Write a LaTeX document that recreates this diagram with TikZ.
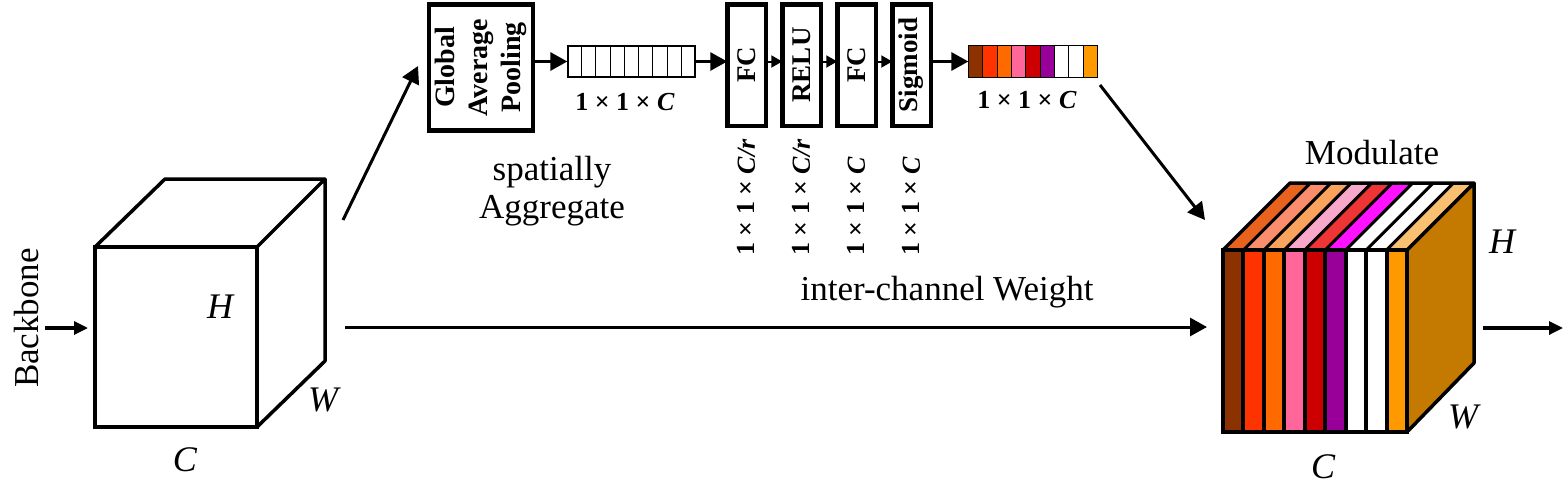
\documentclass[tikz,border=0pt]{standalone}
\usepackage{fontspec}
\setmainfont{Liberation Serif}
\usetikzlibrary{arrows.meta,calc}
\definecolor{s1}{HTML}{8B3200}
\definecolor{s2}{HTML}{FF3300}
\definecolor{s3}{HTML}{FF6A00}
\definecolor{s4}{HTML}{FF6699}
\definecolor{s5}{HTML}{CC0000}
\definecolor{s6}{HTML}{990099}
\definecolor{s7}{HTML}{FFFFFF}
\definecolor{s8}{HTML}{FFFFFF}
\definecolor{s9}{HTML}{FF9900}
\definecolor{t1}{HTML}{E8641E}
\definecolor{t2}{HTML}{F98D6C}
\definecolor{t3}{HTML}{F9A35E}
\definecolor{t4}{HTML}{F8A8C8}
\definecolor{t5}{HTML}{EE3535}
\definecolor{t6}{HTML}{FF10FF}
\definecolor{t7}{HTML}{FFFFFF}
\definecolor{t8}{HTML}{FFFFFF}
\definecolor{t9}{HTML}{F8C070}
\definecolor{sidec}{HTML}{C47A00}
\begin{document}
\begin{tikzpicture}[x=1pt,y=-1pt,
  conn/.style={line width=3pt,-{Triangle[length=17pt,width=18pt]}},
  inarrow/.style={line width=3.2pt,-{Triangle[length=14pt,width=13pt]}},
  tinyarrow/.style={line width=2pt,-{Triangle[length=11pt,width=12pt]}},
  blk/.style={draw,line width=4.5pt,inner sep=0pt,outer sep=0pt},
  lbl/.style={font=\fontsize{35}{40}\selectfont,inner sep=0pt},
  dimlbl/.style={font=\fontsize{36}{42}\selectfont\itshape,inner sep=0pt},
  bt/.style={font=\fontsize{26}{32}\selectfont\bfseries,inner sep=0pt},
  boxt/.style={font=\fontsize{27}{32}\selectfont\bfseries,inner sep=0pt},
  gt/.style={font=\fontsize{28}{33}\selectfont\bfseries,inner sep=0pt,align=center},
]
\useasboundingbox (0,0) rectangle (1565,490);

% ---------- left cube ----------
\coordinate (a1) at (95,247);
\coordinate (a2) at (257,247);
\coordinate (a3) at (257,427);
\coordinate (a4) at (95,427);
\coordinate (b1) at (165,179);
\coordinate (b2) at (325,179);
\coordinate (b3) at (325,361);
\draw[line width=3.5pt,line join=round] (a1)--(b1)--(b2)--(a2) (b2)--(b3)--(a3);
\draw[line width=4.5pt] (a1) rectangle (a3);
\node[dimlbl] (h1) at (220,307) {H};
\node[dimlbl] (w1) at (323,400) {W};
\node[dimlbl] (cc1) at (185,460) {C};
\node[lbl,rotate=90] (bb) at (27,318) {Backbone};
\coordinate (in1) at (45,328);
\coordinate (in1e) at (88,328);
\draw[inarrow] (in1) -- (in1e);

% ---------- right cube ----------
\coordinate (r1) at (1223,250);
\coordinate (r2) at (1407,250);
\coordinate (r3) at (1407,432);
\coordinate (r4) at (1223,432);
\coordinate (q1) at (1290,183);
\coordinate (q2) at (1474,183);
\coordinate (q3) at (1474,363);
\foreach \c [count=\i from 0] in {s1,s2,s3,s4,s5,s6,s7,s8,s9}{
  \fill[\c] (1223+\i*20.444,250) rectangle (1223+\i*20.444+20.444,432);
}
\foreach \c [count=\i from 0] in {t1,t2,t3,t4,t5,t6,t7,t8,t9}{
  \fill[\c] (1223+\i*20.444,250) -- (1290+\i*20.444,183) -- (1290+\i*20.444+20.444,183) -- (1223+\i*20.444+20.444,250) -- cycle;
}
\fill[sidec] (r2)--(q2)--(q3)--(r3)--cycle;
\foreach \i in {1,...,8}{
  \draw[line width=4pt] (1223+\i*20.444,250) -- (1223+\i*20.444,432);
  \draw[line width=3pt] (1223+\i*20.444,250) -- (1290+\i*20.444,183);
}
\draw[line width=3.5pt,line join=round] (r1)--(q1)--(q2)--(r2) (q2)--(q3)--(r3);
\draw[line width=4.5pt] (r1) rectangle (r3);
\node[dimlbl] (h2) at (1502,242) {H};
\node[dimlbl] (w2) at (1463,417) {W};
\node[dimlbl] (cc2) at (1323,467) {C};
\node[lbl] (mod) at (1372,153) {Modulate};
\coordinate (out1) at (1483,328);
\coordinate (out1e) at (1563,328);
\draw[inarrow] (out1) -- (out1e);

% ---------- main path ----------
\coordinate (m1) at (345,327);
\coordinate (m2) at (1207,327);
\draw[conn] (m1) -- (m2);
\node[lbl] (icw) at (947,292) {inter-channel Weight};

% ---------- SE branch ----------
\node[blk,minimum width=104pt,minimum height=126pt] (gap) at (481,67.5) {};
\node[gt,rotate=90] (gapt) at (gap.center) {Global\\Average\\Pooling};
\coordinate (c1out) at (343,220);
\coordinate (gapin) at (418,66);
\draw[conn] (c1out) -- (gapin);
\node[lbl,align=center,font=\fontsize{35}{38}\selectfont] (sa) at (552,191) {spatially\\Aggregate};

\node[draw,line width=1.3pt,minimum width=127pt,minimum height=31pt,inner sep=0pt] (vec) at (631.5,61.5) {};
\foreach \i in {1,...,8}{
  \draw[line width=1.1pt] ($(vec.south west)!\i/9!(vec.south east)$) -- ($(vec.north west)!\i/9!(vec.north east)$);
}
\node[bt] (vecl) at (625,102) {1 × 1 × \textit{C}};

\node[blk,minimum width=38.5pt,minimum height=121.5pt] (fc1) at (746.5,65) {};
\node[blk,minimum width=38.5pt,minimum height=121.5pt] (relu) at (801.5,65) {};
\node[blk,minimum width=38.5pt,minimum height=121.5pt] (fc2) at (856.5,65) {};
\node[blk,minimum width=38.5pt,minimum height=121.5pt] (sig) at (911.5,65) {};
\node[boxt,rotate=90] at (fc1.center) {FC};
\node[boxt,rotate=90] at (relu.center) {RELU};
\node[boxt,rotate=90] at (fc2.center) {FC};
\node[boxt,rotate=90] at (sig.center) {Sigmoid};

\coordinate (base) at (0,256);
\node[bt,rotate=90,anchor=west] (d1) at (fc1 |- base) {1 × 1 × \textit{C/r}};
\node[bt,rotate=90,anchor=west] (d2) at (relu |- base) {1 × 1 × \textit{C/r}};
\node[bt,rotate=90,anchor=west] (d3) at (fc2 |- base) {1 × 1 × \textit{C}};
\node[bt,rotate=90,anchor=west] (d4) at (sig |- base) {1 × 1 × \textit{C}};

\node[draw,line width=1.3pt,minimum width=128pt,minimum height=31pt,inner sep=0pt] (wvec) at (1033,61.5) {};
\foreach \c [count=\i from 0] in {s1,s2,s3,s4,s5,s6,s7,s8,s9}{
  \fill[\c] (969+\i*14.222,46) rectangle (969+\i*14.222+14.222,77);
}
\foreach \i in {1,...,8}{
  \draw[line width=1.1pt] ($(wvec.south west)!\i/9!(wvec.south east)$) -- ($(wvec.north west)!\i/9!(wvec.north east)$);
}
\draw[line width=1.3pt] (wvec.south west) rectangle (wvec.north east);
\node[bt] (wvecl) at (1027,100) {1 × 1 × \textit{C}};

\draw[conn] (gap.east |- vec.west) -- (vec.west);
\draw[conn] (vec.east) -- (fc1.west |- vec.east);
\draw[tinyarrow] (fc1.east |- vec.east) -- (relu.west |- vec.east);
\draw[tinyarrow] (relu.east |- vec.east) -- (fc2.west |- vec.east);
\draw[tinyarrow] (fc2.east |- vec.east) -- (sig.west |- vec.east);
\draw[conn] (sig.east |- wvec.west) -- (wvec.west);

\coordinate (wout) at (1100,85);
\coordinate (cubein) at (1205,220);
\draw[conn] (wout) -- (cubein);
\end{tikzpicture}
\end{document}
